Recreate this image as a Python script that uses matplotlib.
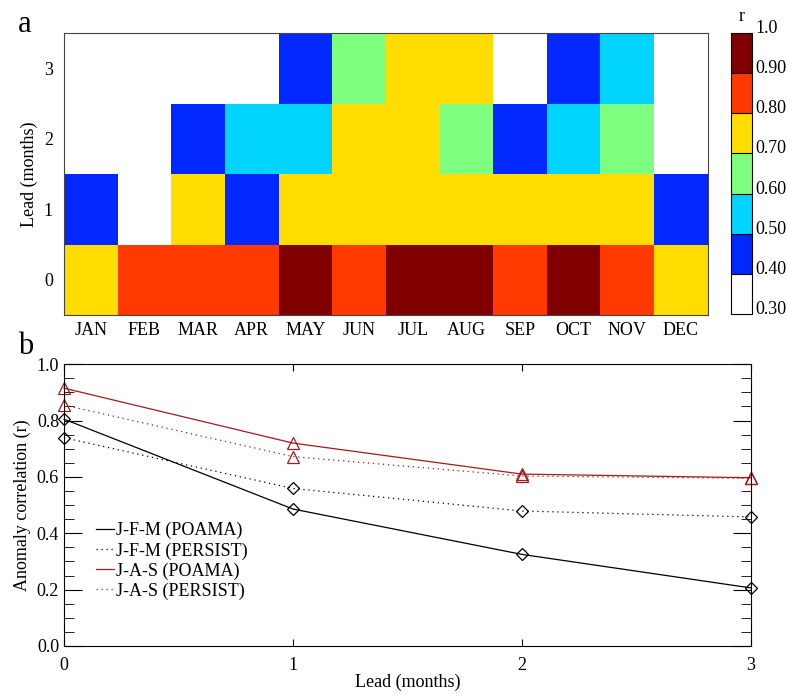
import numpy as np
import matplotlib
matplotlib.use("Agg")
import matplotlib.pyplot as plt
from matplotlib.colors import ListedColormap, BoundaryNorm

plt.rcParams['font.family'] = ['Liberation Serif', 'DejaVu Serif']

months = ["JAN", "FEB", "MAR", "APR", "MAY", "JUN", "JUL", "AUG", "SEP", "OCT", "NOV", "DEC"]
leads_a = [0, 1, 2, 3]
corr_lead0 = [0.75, 0.85, 0.85, 0.85, 0.95, 0.85, 0.95, 0.95, 0.85, 0.95, 0.85, 0.75]
corr_lead1 = [0.45, 0.35, 0.75, 0.45, 0.75, 0.75, 0.75, 0.75, 0.75, 0.75, 0.75, 0.45]
corr_lead2 = [0.35, 0.35, 0.45, 0.55, 0.55, 0.75, 0.75, 0.65, 0.45, 0.55, 0.65, 0.35]
corr_lead3 = [0.35, 0.35, 0.35, 0.35, 0.45, 0.65, 0.75, 0.75, 0.35, 0.45, 0.55, 0.35]

levels = [0.3, 0.4, 0.5, 0.6, 0.7, 0.8, 0.9, 1.0]
level_labels = ["0.30", "0.40", "0.50", "0.60", "0.70", "0.80", "0.90", "1.0"]
level_colors = ["#ffffff", "#0028ff", "#00d4ff", "#7fff7f", "#ffdd00", "#ff3a00", "#800000"]

# panel b: seasonal skill vs lead
leads_b = [0, 1, 2, 3]
jfm_poama = [0.805, 0.486, 0.325, 0.206]
jfm_persist = [0.739, 0.559, 0.479, 0.458]
jas_poama = [0.915, 0.720, 0.610, 0.597]
jas_persist = [0.855, 0.672, 0.603, 0.595]

dark_red = "#a31a1a"

fig = plt.figure(figsize=(7.87, 6.94), dpi=100)

# ---- panel a ----
ax1 = fig.add_axes([0.0813, 0.546, 0.818, 0.406])
grid = np.array([corr_lead0, corr_lead1, corr_lead2, corr_lead3])
cmap = ListedColormap(level_colors)
norm = BoundaryNorm(levels, cmap.N)
x_edges = np.arange(len(months) + 1) - 0.5
y_edges = np.arange(len(leads_a) + 1) - 0.5
mesh = ax1.pcolormesh(x_edges, y_edges, grid, cmap=cmap, norm=norm)
ax1.set_xlim(-0.5, len(months) - 0.5)
ax1.set_ylim(-0.5, len(leads_a) - 0.5)
ax1.set_xticks(range(len(months)))
ax1.set_xticklabels(months)
ax1.set_yticks(leads_a)
ax1.tick_params(length=0, labelsize=13, pad=5)
ax1.tick_params(axis="y", pad=8)
ax1.set_ylabel("Lead (months)", fontsize=13)
for s in ax1.spines.values():
    s.set_linewidth(0.8)
    s.set_color("#444444")

cax = fig.add_axes([0.929, 0.548, 0.026, 0.404])
cb = fig.colorbar(mesh, cax=cax, ticks=levels, drawedges=True)
cb.ax.set_yticklabels(level_labels)
cb.ax.tick_params(length=0, labelsize=13, pad=3)
for t in cb.ax.get_yticklabels():
    t.set_va("baseline")
cb.outline.set_linewidth(0.8)
cb.dividers.set_linewidth(0.8)
cax.set_title("r", fontsize=13, pad=9)

fig.text(0.023, 0.965, "a", fontsize=22, va="center")

# ---- panel b ----
ax2 = fig.add_axes([0.0813, 0.0692, 0.873, 0.406])
ax2.plot(leads_b, jfm_poama, color="black", lw=0.9, marker="D", ms=6,
         mfc="none", mew=0.9, label="J-F-M (POAMA)")
ax2.plot(leads_b, jfm_persist, color="black", lw=0.9, ls=(0, (1, 3)), marker="D", ms=6,
         mfc="none", mew=0.9, label="J-F-M (PERSIST)")
ax2.plot(leads_b, jas_poama, color=dark_red, lw=0.9, marker="^", ms=8,
         mfc="none", mew=0.9, label="J-A-S (POAMA)")
ax2.plot(leads_b, jas_persist, color=dark_red, lw=0.9, ls=(0, (1, 3)), marker="^", ms=8,
         mfc="none", mew=0.9, label="J-A-S (PERSIST)")
for line in ax2.get_lines():
    line.set_clip_on(False)

ax2.set_xlim(0, 3)
ax2.set_ylim(0, 1)
ax2.set_xticks(leads_b)
ax2.set_yticks(np.arange(0, 1.01, 0.2))
ax2.set_yticklabels([f"{v:.1f}" for v in np.arange(0, 1.01, 0.2)])
ax2.set_yticks(np.arange(0, 1.001, 0.05), minor=True)
ax2.tick_params(axis="y", which="major", direction="in", length=13, right=True, labelsize=13)
ax2.tick_params(axis="y", which="minor", direction="in", length=7, right=True)
ax2.tick_params(axis="x", which="major", direction="in", length=5, top=True, labelsize=13, pad=8)
ax2.set_xlabel("Lead (months)", fontsize=13, labelpad=0)
ax2.set_ylabel("Anomaly correlation (r)", fontsize=13)
for s in ax2.spines.values():
    s.set_linewidth(0.8)

leg = ax2.legend(loc="upper left", bbox_to_anchor=(0.036, 0.465), frameon=False,
                 fontsize=13, handlelength=1.0, handletextpad=0.1,
                 labelspacing=0.15, markerscale=0, borderaxespad=0)
for h in leg.legend_handles:
    h.set_marker("")

fig.text(0.023, 0.50, "b", fontsize=22, va="center")

fig.savefig("out.png", dpi=100)
